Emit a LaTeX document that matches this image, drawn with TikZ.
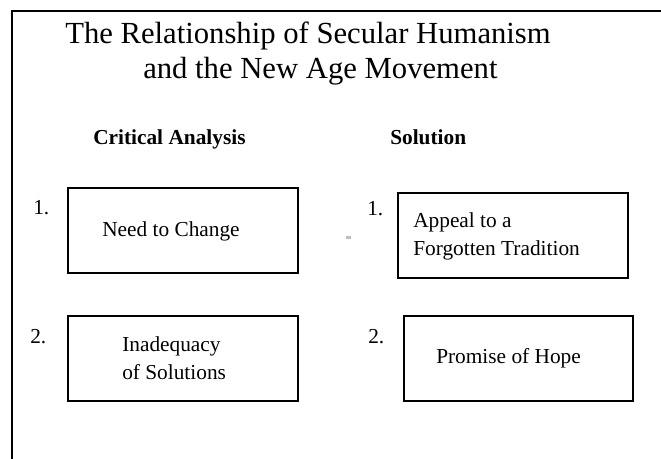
\documentclass[tikz,border=0pt]{standalone}
\usepackage{fontspec}
\setmainfont{Liberation Serif}
\usepackage{tikz}

\tikzset{
    box/.style={shape=rectangle, draw=black, line width=1.5pt, minimum width=172.5pt, minimum height=63.75pt},
    boxtext/.style={font=\fontsize{16}{21}\selectfont, align=left, anchor=base west, inner sep=0pt},
    heading/.style={font=\fontsize{16}{19}\selectfont\bfseries, anchor=base west, inner sep=0pt},
    titletext/.style={font=\fontsize{23}{26}\selectfont, anchor=base west, inner sep=0pt}
}

\begin{document}
\begin{tikzpicture}[x=0.75pt, y=-0.75pt]
    \useasboundingbox (0,0) rectangle (661,459);
    \coordinate (F0) at (12,459);
    \coordinate (F1) at (12,11);
    \coordinate (F2) at (661,11);
    \draw[line width=1.5pt] (F0) -- (F1) -- (F2);

    \node[titletext] at (65,44) (T1) {The Relationship of Secular Humanism};
    \node[titletext] at (143,79) (T2) {and the New Age Movement};
    \node[heading] at (93,145) (H1) {Critical Analysis};
    \node[heading] at (390,145) (H2) {Solution};

    \node[box] at (183,230.5) (A1) {};
    \node[box] at (513,235.5) (B1) {};
    \node[box] at (183,358.5) (A2) {};
    \node[box, minimum width=171.75pt] at (518.5,358.5) (B2) {};

    \node[boxtext] at (33,215) (N1) {1.};
    \node[boxtext] at (367,216) (N2) {1.};
    \node[boxtext] at (30,344) (N3) {2.};
    \node[boxtext] at (368,344) (N4) {2.};

    % two-line texts sit on the baseline of their last line
    \node[boxtext] at (102,237) (A1t) {Need to Change};
    \node[boxtext] at (413,256) (B1t) {Appeal to a\\Forgotten Tradition};
    \node[boxtext] at (122,380) (A2t) {Inadequacy\\of Solutions};
    \node[boxtext] at (436,364) (B2t) {Promise of Hope};

    \fill[black!25] (346,236) rectangle (351,239);
\end{tikzpicture}
\end{document}
